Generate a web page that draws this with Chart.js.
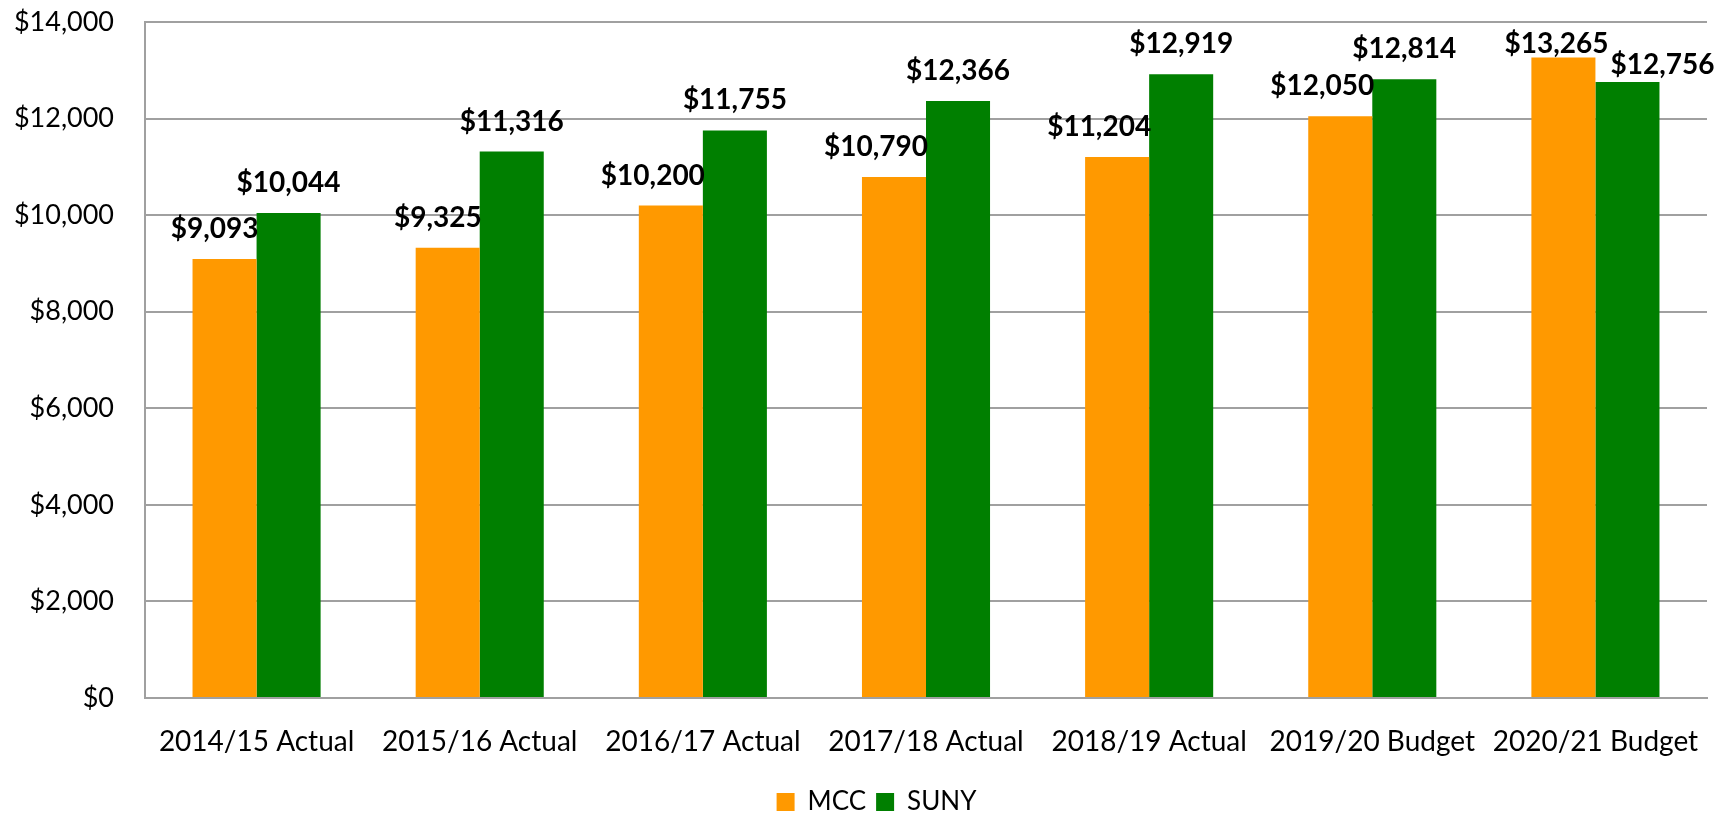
<!DOCTYPE html>
<html>
<head>
<meta charset="utf-8">
<script src="https://cdn.jsdelivr.net/npm/chart.js@4/dist/chart.umd.min.js"></script>
<style>
  html, body { margin: 0; padding: 0; background: #ffffff; }
  #wrap { width: 1735px; height: 815px; position: relative; }
</style>
</head>
<body>
<div id="wrap"><canvas id="c" width="1735" height="815"></canvas></div>
<script>
const categories = ["2014/15 Actual", "2015/16 Actual", "2016/17 Actual", "2017/18 Actual", "2018/19 Actual", "2019/20 Budget", "2020/21 Budget"];
const mccValues = [9093, 9325, 10200, 10790, 11204, 12050, 13265];
const sunyValues = [10044, 11316, 11755, 12366, 12919, 12814, 12756];
const seriesNames = ["MCC", "SUNY"];
const yMin = 0, yMax = 14000, yStep = 2000;

const FONT = "Lato, 'Open Sans', 'DejaVu Sans', sans-serif";
const fmt = v => "$" + v.toLocaleString("en-US");

const labelPlugin = {
  id: "valueLabels",
  afterLayout(chart) {
    // centre the legend a little right of the canvas centre, as in the reference
    chart.legend.left += 23;
    chart.legend.right += 23;
  },
  afterDatasetsDraw(chart) {
    const ctx = chart.ctx;
    ctx.save();
    ctx.font = "bold 28px " + FONT;
    ctx.fillStyle = "#000000";
    ctx.textBaseline = "middle";
    const last = categories.length - 1;
    chart.data.datasets.forEach((ds, di) => {
      const meta = chart.getDatasetMeta(di);
      meta.data.forEach((bar, i) => {
        const txt = fmt(ds.data[i]);
        let x = bar.x, y = bar.y - 30;
        if (di === 0) {
          if (i === last) { ctx.textAlign = "center"; x = bar.x - 7; y = bar.y - 14; }
          else { ctx.textAlign = "right"; x = bar.x + bar.width / 2 + 2; }
        } else {
          ctx.textAlign = "center";
          if (i === last) { x = bar.x + 35; y = bar.y - 17; }
        }
        ctx.fillText(txt, x, y);
      });
    });
    ctx.restore();
  }
};

new Chart(document.getElementById("c"), {
  type: "bar",
  data: {
    labels: categories,
    datasets: [
      { label: seriesNames[0], data: mccValues, backgroundColor: "#FF9900", borderWidth: 0 },
      { label: seriesNames[1], data: sunyValues, backgroundColor: "#007F00", borderWidth: 0 }
    ]
  },
  options: {
    responsive: false,
    animation: false,
    devicePixelRatio: 1,
    layout: { padding: { top: 22, right: 28, left: 0, bottom: -10 } },
    datasets: { bar: { categoryPercentage: 0.574, barPercentage: 1.0 } },
    plugins: {
      legend: {
        position: "bottom",
        labels: {
          font: { family: FONT, size: 26 },
          color: "#000000",
          boxWidth: 18,
          boxHeight: 18,
          padding: 10
        }
      },
      tooltip: { enabled: false }
    },
    scales: {
      x: {
        grid: { display: false, drawTicks: false },
        border: { display: true, color: "#A0A0A0", width: 2 },
        ticks: { font: { family: FONT, size: 28 }, color: "#000000", padding: 27, maxRotation: 0 },
        afterFit(scale) { scale.height = 81; }
      },
      y: {
        min: yMin, max: yMax,
        grid: { color: "#A0A0A0", lineWidth: 2, drawTicks: false },
        border: { display: true, color: "#A0A0A0", width: 2 },
        ticks: {
          stepSize: yStep,
          font: { family: FONT, size: 27 },
          color: "#000000",
          padding: 31,
          callback: v => fmt(v)
        },
        afterFit(scale) { scale.width = 145; scale.paddingTop = 0; scale.paddingBottom = 0; }
      }
    }
  },
  plugins: [labelPlugin]
});
</script>
</body>
</html>
